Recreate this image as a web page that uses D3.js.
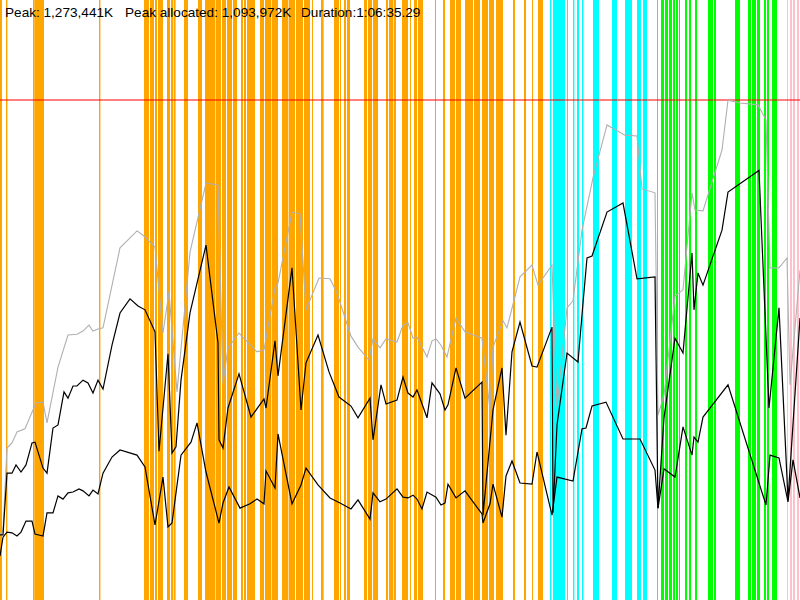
<!DOCTYPE html>
<html><head><meta charset="utf-8">
<script src="https://cdn.jsdelivr.net/npm/d3@7"></script>
<style>html,body{margin:0;padding:0;background:#fff;overflow:hidden}</style>
</head><body>
<svg id="chart" width="800" height="600"></svg>
<script>
// ---- data (time in seconds, memory in thousands of K) ----
const peakK = 1273441;
const peakAllocatedK = 1093972;
const durationLabel = "1:06:35.29";
const timeMax = 4000;

const orangeBands = [[0,10],[30,37],[165,172],[172,220],[495,502],
 [720,745],[750,770],[775,785],[790,815],[835,850],[855,865],[868,878],[920,940],[990,1010],
 [1025,1075],[1078,1105],[1110,1130],[1135,1160],[1165,1185],[1205,1215],[1220,1230],[1235,1275],
 [1300,1320],[1325,1355],[1358,1390],[1410,1440],[1443,1475],[1480,1515],[1520,1550],[1560,1565],[1605,1618],[1670,1695],
 [1700,1705],[1720,1730],[1735,1750],[1820,1835],[1840,1860],[1865,1890],[1930,1940],[1945,1965],
 [1968,1980],[2010,2040],[2050,2055],[2070,2085],[2090,2115],[2175,2180],[2215,2225],[2250,2275],
 [2280,2305],[2325,2365],[2370,2400],[2410,2440],[2445,2470],[2480,2515],[2565,2575],[2620,2630],
 [2660,2665],[2690,2715]];
const cyanBands = [[2750,2757],[2765,2825],[2835,2840],[2865,2872],[2885,2895],[2910,2917],
 [2965,2995],[3060,3085],[3125,3160],[3185,3205],[3215,3235]];
const greenBands = [[3285,3289],[3305,3320],[3325,3340],[3345,3360],[3365,3375],[3380,3390],
 [3395,3400],[3425,3435],[3445,3455],[3475,3485],[3540,3565],[3570,3580],[3675,3700],[3740,3755],
 [3760,3780],[3785,3800],[3820,3830],[3835,3845],[3860,3885]];
const pinkBands = [[3935,3940],[3950,3960],[3965,3975],[3985,3995]];

const totalSeries = [[0,166],[15,178],[35,387],[60,400],[85,428],[125,436],[180,502],[215,504],[235,451],
 [290,593],[340,675],[385,677],[415,685],[445,700],[465,685],[490,690],[515,693],[600,897],[685,940],
 [720,927],[775,899],[815,680],[845,784],[885,530],[950,886],[1030,1062],[1090,1057],[1115,553],
 [1140,642],[1195,680],[1285,632],[1320,637],[1375,795],[1390,807],[1460,988],[1500,983],[1530,739],
 [1595,820],[1650,818],[1685,782],[1755,672],[1790,644],[1845,611],[1865,665],[1900,642],[1930,665],
 [1985,657],[2015,700],[2040,706],[2065,667],[2085,670],[2135,619],[2160,660],[2180,665],[2205,649],
 [2235,619],[2280,718],[2325,683],[2410,667],[2450,484],[2465,644],[2515,711],[2535,693],[2600,823],
 [2660,853],[2690,802],[2760,853],[2785,492],[2835,744],[2865,762],[2910,942],[2965,1075],[3035,1210],
 [3125,1184],[3185,1182],[3210,1047],[3275,1037],[3290,471],[3320,522],[3375,774],[3415,790],
 [3460,1037],[3475,993],[3515,991],[3610,1146],[3640,1273],[3700,1266],[3790,1261],[3830,1223],
 [3850,846],[3895,846],[3935,871],[3950,548],[4000,840]];

const allocatedSeries = [[0,166],[15,166],[35,323],[60,323],[80,344],[105,326],[130,344],[160,400],
 [175,402],[215,336],[235,323],[265,438],[290,446],[320,530],[340,514],[365,545],[385,545],[415,560],
 [440,553],[465,527],[490,560],[515,537],[560,649],[600,731],[650,767],[690,749],[725,739],[775,683],
 [795,379],[840,627],[860,374],[880,390],[905,560],[950,731],[1030,904],[1090,655],[1095,408],
 [1115,387],[1140,489],[1195,576],[1255,466],[1320,512],[1330,489],[1375,660],[1390,571],[1460,846],
 [1505,484],[1530,604],[1590,675],[1645,581],[1695,517],[1755,494],[1790,464],[1850,514],[1865,408],
 [1905,548],[1930,499],[1985,509],[2015,568],[2040,527],[2065,517],[2085,535],[2135,464],[2160,553],
 [2200,525],[2225,484],[2240,497],[2280,591],[2325,514],[2410,555],[2415,216],[2465,484],[2510,591],
 [2530,420],[2560,632],[2600,708],[2660,596],[2685,593],[2760,695],[2765,222],[2785,446],[2835,629],
 [2890,606],[2915,756],[2935,871],[2960,876],[3035,988],[3115,1011],[3185,818],[3275,823],[3290,234],
 [3320,464],[3375,667],[3415,629],[3460,884],[3470,739],[3490,833],[3515,802],[3610,942],[3640,1039],
 [3795,1094],[3845,489],[3895,744],[3940,255],[4000,718]];

const liveSeries = [[0,112],[15,160],[35,173],[60,171],[85,163],[105,173],[130,201],[160,201],[175,168],
 [215,163],[235,222],[265,222],[290,265],[315,257],[340,273],[365,275],[395,283],[415,278],[445,265],
 [465,280],[490,270],[515,323],[560,364],[600,382],[685,369],[725,339],[775,191],[815,313],[840,186],
 [860,196],[905,369],[955,402],[985,451],[1030,326],[1095,196],[1115,247],[1145,288],[1200,234],
 [1250,245],[1285,257],[1320,245],[1330,329],[1375,285],[1390,423],[1460,245],[1505,293],[1530,336],
 [1590,293],[1650,260],[1700,247],[1755,232],[1790,255],[1850,206],[1865,273],[1900,250],[1930,257],
 [1985,283],[2015,262],[2040,260],[2065,267],[2085,257],[2110,232],[2135,275],[2180,262],[2205,242],
 [2225,247],[2240,295],[2280,260],[2325,278],[2410,219],[2415,196],[2450,245],[2465,295],[2510,211],
 [2530,316],[2560,354],[2600,298],[2660,295],[2685,377],[2760,216],[2785,313],[2865,303],[2910,436],
 [2930,438],[2960,494],[3030,504],[3115,410],[3200,410],[3275,331],[3290,234],[3320,334],[3375,313],
 [3415,441],[3460,369],[3470,415],[3490,402],[3515,466],[3640,548],[3830,242],[3850,369],[3895,362],
 [3940,250],[3965,357],[4000,260]];

const headerLabels = [
  "Peak: " + d3.format(",")(peakK) + "K",
  "Peak allocated: " + d3.format(",")(peakAllocatedK) + "K",
  "Duration:" + durationLabel
];

// ---- drawing ----
const W = 800, H = 600;
const svg = d3.select("#chart");
const x = d3.scaleLinear().domain([0, timeMax]).range([0, W]);
const y = d3.scaleLinear().domain([0, peakK * 1.2 / 1000]).range([H, 0]);

const bandGroups = [
  {bands: orangeBands, color: "#FFA500"},
  {bands: cyanBands, color: "#00FFFF"},
  {bands: greenBands, color: "#00FF00"},
  {bands: pinkBands, color: "#FFC0CB"}
];
bandGroups.forEach(g => {
  svg.append("g").selectAll("rect").data(g.bands).join("rect")
    .attr("x", d => x(d[0]))
    .attr("width", d => Math.max(0.6, x(d[1]) - x(d[0])))
    .attr("y", 0).attr("height", H)
    .attr("fill", g.color);
});

svg.append("line")
  .attr("x1", 0).attr("x2", W)
  .attr("y1", y(peakK / 1000)).attr("y2", y(peakK / 1000))
  .attr("stroke", "#ff0000").attr("stroke-opacity", 0.5).attr("stroke-width", 2);

const line = d3.line().x(d => x(d[0])).y(d => y(d[1]));
svg.append("path").datum(totalSeries).attr("d", line)
  .attr("fill", "none").attr("stroke", "#b0b0b0").attr("stroke-width", 1.1);
svg.append("path").datum(allocatedSeries).attr("d", line)
  .attr("fill", "none").attr("stroke", "#000").attr("stroke-width", 1.2);
svg.append("path").datum(liveSeries).attr("d", line)
  .attr("fill", "none").attr("stroke", "#000").attr("stroke-width", 1.2);

const labelX = [5, 125, 301];
svg.append("g").selectAll("text").data(headerLabels).join("text")
  .attr("x", (d, i) => labelX[i]).attr("y", 17)
  .attr("font-family", "'Lucida Grande', 'Liberation Sans', Arial, sans-serif")
  .attr("font-size", 13.6).attr("fill", "#000")
  .text(d => d);
</script>
</body></html>
